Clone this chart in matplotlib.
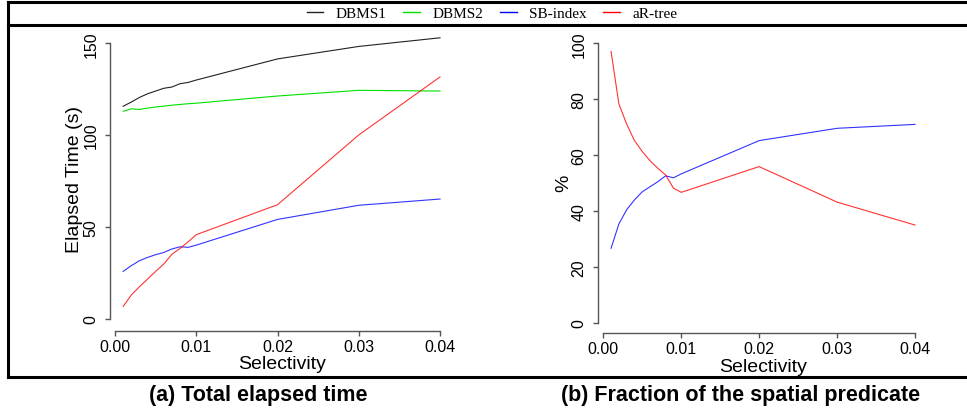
import matplotlib
matplotlib.use("Agg")
import matplotlib.pyplot as plt
from matplotlib.lines import Line2D

# selectivity values (x axis)
sel = [0.001, 0.002, 0.003, 0.004, 0.005, 0.006, 0.007, 0.008, 0.009, 0.01, 0.02, 0.03, 0.04]

# (a) total elapsed time (s)
dbms1 = [115.7, 118.0, 120.5, 122.5, 124.0, 125.5, 126.2, 128.0, 128.7, 130.0, 141.5, 148.3, 153.0]
dbms2 = [113.0, 114.3, 114.0, 114.7, 115.3, 115.8, 116.3, 116.7, 117.1, 117.4, 121.3, 124.4, 124.0]
sb_time = [25.8, 28.9, 31.6, 33.4, 34.9, 36.1, 38.0, 39.2, 38.9, 40.1, 54.1, 61.8, 65.2]
ar_time = [6.7, 12.9, 17.4, 21.6, 25.8, 29.8, 35.1, 38.3, 41.9, 45.8, 62.1, 100.1, 131.7]

# (b) fraction of the spatial predicate (%)
sb_frac = [26.7, 35.4, 40.5, 44.0, 46.9, 48.7, 50.5, 52.6, 51.9, 53.3, 65.2, 69.6, 71.0]
ar_frac = [97.1, 78.3, 71.1, 65.2, 61.3, 58.0, 55.3, 52.9, 48.2, 46.7, 55.9, 43.2, 35.0]

names = ["DBMS1", "DBMS2", "SB-index", "aR-tree"]
colors = ["#222222", "#00e000", "#0000ff", "#ff0000"]

xticks = [0.00, 0.01, 0.02, 0.03, 0.04]
xticklabels = ["0.00", "0.01", "0.02", "0.03", "0.04"]

plt.rcParams["font.family"] = ["Liberation Sans", "DejaVu Sans"]

W, H = 967, 410
fig = plt.figure(figsize=(W / 100, H / 100), dpi=100)


def px_axes(x0, x1, y0, y1):
    # pixel box (top-down y) -> figure fraction axes
    return fig.add_axes([x0 / W, 1 - y1 / H, (x1 - x0) / W, (y1 - y0) / H])


def r_style(ax, yticks):
    for s in ["top", "right"]:
        ax.spines[s].set_visible(False)
    for s in ["left", "bottom"]:
        ax.spines[s].set_color("#555555")
        ax.spines[s].set_linewidth(1.0)
    ax.spines["bottom"].set_bounds(xticks[0], xticks[-1])
    ax.spines["left"].set_bounds(yticks[0], yticks[-1])
    ax.set_xticks(xticks)
    ax.set_xticklabels(xticklabels)
    ax.set_yticks(yticks)
    ax.set_yticklabels([str(v) for v in yticks], rotation=90, va="center")
    ax.tick_params(axis="both", direction="out", length=3.6, width=1.0,
                   color="#555555", labelsize=11.5)
    ax.tick_params(axis="x", pad=2.4)
    ax.tick_params(axis="y", pad=4.8)
    ax.set_xlabel("Selectivity", fontsize=14, labelpad=0.9)


# (a) total elapsed time
ax1 = px_axes(110.45, 452.7, 27.6, 331.7)
ax1.plot(sel, dbms1, color=colors[0], lw=0.8)
ax1.plot(sel, dbms2, color=colors[1], lw=0.8)
ax1.plot(sel, sb_time, color=colors[2], lw=0.8, alpha=0.8)
ax1.plot(sel, ar_time, color=colors[3], lw=0.8, alpha=0.8)
ax1.set_xlim(-0.00056, 0.04156)
ax1.set_ylim(-6.5, 159.1)
r_style(ax1, [0, 50, 100, 150])
ax1.set_ylabel("Elapsed Time (s)", fontsize=14, labelpad=0.5)

# (b) fraction of the spatial predicate
ax2 = px_axes(598.3, 927.2, 33.1, 334)
ax2.plot(sel, sb_frac, color=colors[2], lw=0.8, alpha=0.8)
ax2.plot(sel, ar_frac, color=colors[3], lw=0.8, alpha=0.8)
ax2.set_xlim(-0.00064, 0.04156)
ax2.set_ylim(-3.6, 104)
r_style(ax2, [0, 20, 40, 60, 80, 100])
ax2.set_ylabel("%", fontsize=14, labelpad=-0.3)

# shared legend on top
handles = [Line2D([], [], color=c, lw=1.0) for c in colors]
fig.legend(handles, names, loc="center", bbox_to_anchor=(492 / W, 1 - 14 / H),
           ncol=4, frameon=False, prop={"family": "Liberation Serif", "size": 11},
           handlelength=1.1, handletextpad=0.8, columnspacing=1.1, borderpad=0)

# frame lines
lw_frame = 2.2
fig.add_artist(Line2D([8 / W, 8 / W], [1 - 3 / H, 1 - 378 / H], color="black",
                      lw=lw_frame, transform=fig.transFigure))
for yy in [3, 25.5, 378]:
    fig.add_artist(Line2D([8 / W, 1.0], [1 - yy / H, 1 - yy / H], color="black",
                          lw=lw_frame, transform=fig.transFigure))

# captions
fig.text(258 / W, 1 - 396 / H, "(a) Total elapsed time", ha="center", va="center",
         fontsize=15.5, fontweight="bold")
fig.text(741 / W, 1 - 396 / H, "(b) Fraction of the spatial predicate", ha="center",
         va="center", fontsize=15.5, fontweight="bold")

fig.savefig("out.png", dpi=100)
